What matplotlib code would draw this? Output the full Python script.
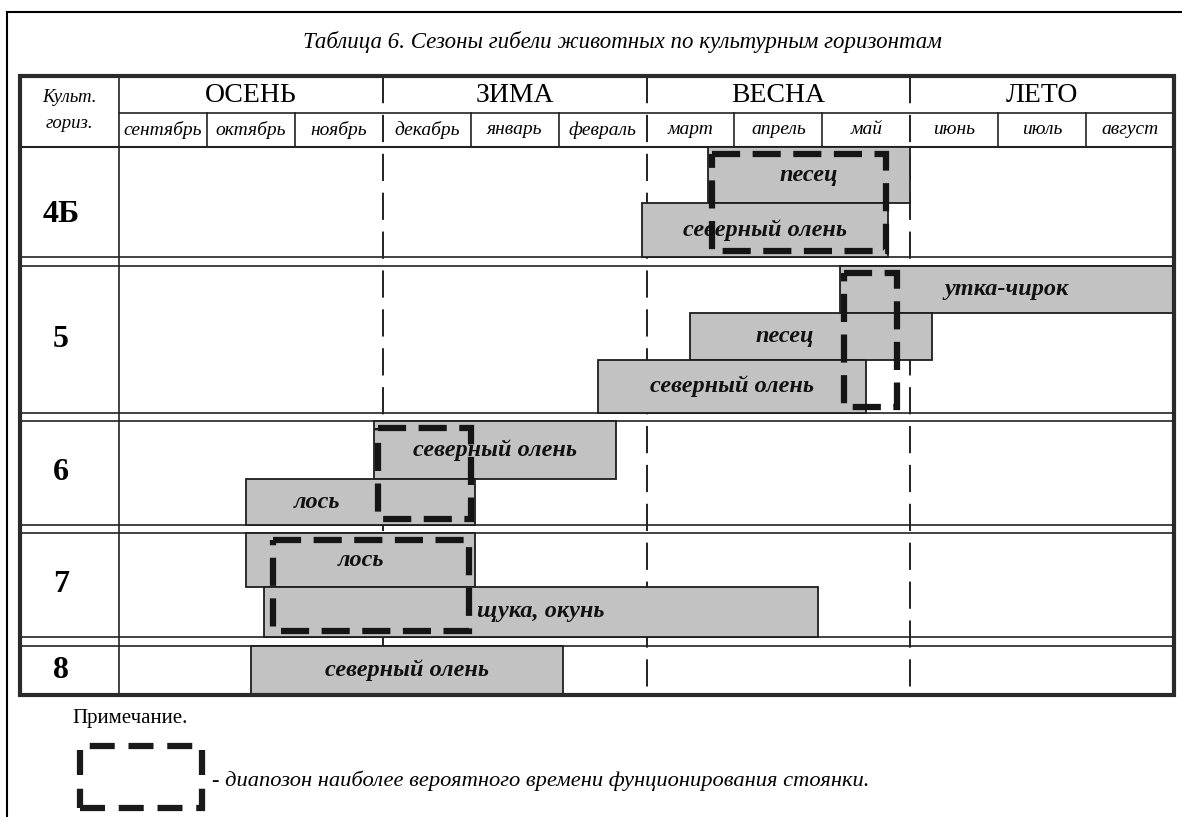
import matplotlib.pyplot as plt
from matplotlib.patches import Rectangle
from matplotlib.lines import Line2D

plt.rcParams['font.family'] = ['Liberation Serif', 'DejaVu Serif']

title = 'Таблица 6. Сезоны гибели животных по культурным горизонтам'
seasons = ['ОСЕНЬ', 'ЗИМА', 'ВЕСНА', 'ЛЕТО']
months = ['сентябрь', 'октябрь', 'ноябрь', 'декабрь', 'январь', 'февраль',
          'март', 'апрель', 'май', 'июнь', 'июль', 'август']
horizons = ['4Б', '5', '6', '7', '8']

# полосы: горизонт, дорожка, начало и конец (в месяцах от 1 сентября), подпись
bar_horizon = ['4Б', '4Б', '5', '5', '5', '6', '6', '7', '7', '8']
bar_lane = [0, 1, 0, 1, 2, 0, 1, 0, 1, 0]
bar_start = [6.7, 5.95, 8.2, 6.5, 5.45, 2.9, 1.45, 1.45, 1.65, 1.5]
bar_end = [9.0, 8.75, 12.0, 9.25, 8.5, 5.65, 4.05, 4.05, 7.95, 5.05]
bar_label = ['песец', 'северный олень', 'утка-чирок', 'песец', 'северный олень',
             'северный олень', 'лось', 'лось', 'щука, окунь', 'северный олень']

# пунктирные рамки - время функционирования стоянки
site_horizon = ['4Б', '5', '6', '7']
site_start = [6.75, 8.25, 2.95, 1.75]
site_end = [8.72, 8.85, 4.0, 3.98]

note = 'Примечание.'
note_text = '- диапозон наиболее вероятного времени фунционирования стоянки.'

# --- разметка (пиксели) ---
W, H = 1182, 817
rows = {'4Б': [0, 56, 110],
        '5': [119, 166, 213, 266],
        '6': [274, 332, 378],
        '7': [386, 440, 490],
        '8': [499, 548]}
label_shift = {(6, 'лось'): -0.5, (3, 'песец'): -0.3}

fig = plt.figure(figsize=(W / 100, H / 100), dpi=100)
L, R, T, B = 20, 1174, 76, 695
ax = fig.add_axes([L / W, 1 - B / H, (R - L) / W, (B - T) / H])
lab_w = 99 / 87.9
ax.set_xlim(-lab_w, 12)
ax.set_ylim(548, -71)
ax.axis('off')

lc = '#222222'
# шапка
ax.plot([0, 12], [-34, -34], color=lc, lw=1.2)
ax.plot([-lab_w, 12], [0, 0], color=lc, lw=1.5)
for m in [1, 2, 4, 5, 7, 8, 10, 11]:
    ax.plot([m, m], [-34, 0], color=lc, lw=1.2)
ax.plot([0, 0], [-71, 548], color=lc, lw=1.2)
for s in [3, 6, 9]:
    ax.plot([s, s], [-71, 548], color=lc, lw=1.4, ls=(0, (14, 6)))

for i, s in enumerate(seasons):
    ax.text(3 * i + 1.5, -52, s, ha='center', va='center', fontsize=20)
for i, m in enumerate(months):
    ax.text(i + 0.5, -17, m, ha='center', va='center', fontsize=14, style='italic')
ax.text(-lab_w / 2, -50, 'Культ.', ha='center', va='center', fontsize=13.5, style='italic')
ax.text(-lab_w / 2, -24, 'гориз.', ha='center', va='center', fontsize=13.5, style='italic')

# строки горизонтов
for h in horizons:
    top, bot = rows[h][0], rows[h][-1]
    for y in (top, bot):
        ax.plot([-lab_w, 12], [y, y], color=lc, lw=1.2)
    ax.text(-0.66, (top + bot) / 2 + (12 if h == '4Б' else 0), h, ha='center', va='center',
            fontsize=23, fontweight='bold')

for i in range(len(bar_label)):
    y0 = rows[bar_horizon[i]][bar_lane[i]]
    y1 = rows[bar_horizon[i]][bar_lane[i] + 1]
    ax.barh((y0 + y1) / 2, bar_end[i] - bar_start[i], left=bar_start[i], height=y1 - y0,
            color='#c2c2c2', edgecolor='#1e1e1e', lw=1.3, zorder=3)
    xc = (bar_start[i] + bar_end[i]) / 2 + label_shift.get((i, bar_label[i]), 0)
    ax.text(xc, (y0 + y1) / 2, bar_label[i], ha='center', va='center', fontsize=17.5,
            fontweight='bold', style='italic', color='#111111', zorder=5)

for i in range(len(site_horizon)):
    top, bot = rows[site_horizon[i]][0] + 7, rows[site_horizon[i]][-1] - 6
    ax.add_patch(Rectangle((site_start[i], top), site_end[i] - site_start[i], bot - top,
                           fill=False, edgecolor='#151515', lw=4.5, ls=(0, (4.5, 2)),
                           joinstyle='miter', zorder=4))

ax.add_patch(Rectangle((-lab_w, -71), 12 + lab_w, 619, fill=False, edgecolor='#2a2a2a',
                       lw=3, clip_on=False, zorder=6))

# заголовок, рамка и примечание
fig.text(622 / W, 1 - 42 / H, title, ha='center', va='center', fontsize=16.5, style='italic')
fig.add_artist(Line2D([7 / W, 1], [1 - 12 / H, 1 - 12 / H], color='black', lw=1.5))
fig.add_artist(Line2D([7 / W, 7 / W], [0, 1 - 12 / H], color='black', lw=1.5))
fig.text(72 / W, 1 - 718 / H, note, ha='left', va='center', fontsize=15)
fig.add_artist(Rectangle((80 / W, 1 - 808 / H), 122 / W, 62 / H, transform=fig.transFigure,
                         fill=False, edgecolor='#1a1a1a', lw=4.5, ls=(0, (4, 2.2))))
fig.text(212 / W, 1 - 781 / H, note_text, ha='left', va='center', fontsize=16.2, style='italic')

fig.savefig('out.png', dpi=100)
